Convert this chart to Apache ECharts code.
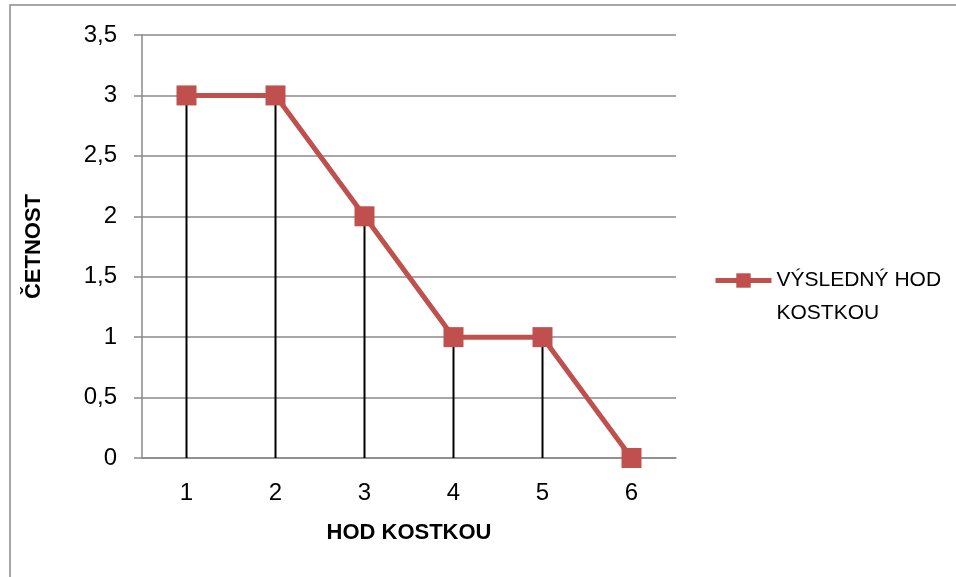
<!DOCTYPE html>
<html>
<head>
<meta charset="utf-8">
<script src="https://cdn.jsdelivr.net/npm/echarts@6/dist/echarts.min.js"></script>
<style>
  html, body { margin: 0; padding: 0; background: #fff; }
  #chart { width: 956px; height: 577px; }
</style>
</head>
<body>
<div id="chart"></div>
<script>
// hodnoty
var categories = ['1', '2', '3', '4', '5', '6'];
var counts = [3, 3, 2, 1, 1, 0];
var seriesName = 'VÝSLEDNÝ HOD KOSTKOU';
var yTicks = { min: 0, max: 3.5, interval: 0.5 };

var red = '#c0504d';
var grey = '#8a8a8a';
var font = 'Liberation Sans';

var myChart = echarts.init(document.getElementById('chart'));

var option = {
    animation: false,
    textStyle: { fontFamily: font },
    graphic: [{
        type: 'rect',
        shape: { x: 10, y: 5, width: 980, height: 620 },
        style: { fill: 'none', stroke: grey, lineWidth: 1.5 },
        silent: true
    }],
    grid: { left: 142, top: 35, right: 280, bottom: 119 },
    legend: {
        data: [seriesName],
        left: 708,
        top: 232,
        itemWidth: 56,
        itemHeight: 18,
        lineStyle: { width: 5 },
        formatter: function () { return '{gap| }\n{t|VÝSLEDNÝ HOD}\n{t|KOSTKOU}'; },
        textStyle: {
            fontFamily: font,
            fontSize: 21,
            color: '#000',
            rich: {
                gap: { fontSize: 21, lineHeight: 33 },
                t: { fontFamily: font, fontSize: 21, color: '#000', lineHeight: 33 }
            }
        }
    },
    xAxis: {
        type: 'category',
        data: categories,
        boundaryGap: true,
        name: 'HOD KOSTKOU',
        nameLocation: 'middle',
        nameGap: 64,
        nameTextStyle: { fontFamily: font, fontSize: 22, fontWeight: 'bold', color: '#000' },
        axisLine: { lineStyle: { color: grey, width: 1.5 } },
        axisTick: { show: false },
        axisLabel: { fontFamily: font, fontSize: 24, color: '#000', margin: 23 },
        splitLine: { show: false }
    },
    yAxis: {
        type: 'value',
        min: yTicks.min,
        max: yTicks.max,
        interval: yTicks.interval,
        name: 'ČETNOST',
        nameLocation: 'middle',
        nameGap: 97,
        nameRotate: 90,
        nameTextStyle: { fontFamily: font, fontSize: 22, fontWeight: 'bold', color: '#000' },
        axisLine: { show: true, lineStyle: { color: grey, width: 1.5 } },
        axisTick: { show: true, length: 8, lineStyle: { color: grey, width: 1.5 } },
        axisLabel: {
            fontFamily: font, fontSize: 24, color: '#000', margin: 25,
            formatter: function (v) { return String(v).replace('.', ','); }
        },
        splitLine: { lineStyle: { color: grey, width: 1.5 } }
    },
    series: [{
        // svislé spojnice k ose
        name: 'drop',
        type: 'bar',
        data: counts,
        barWidth: 2,
        itemStyle: { color: '#000' },
        z: 1,
        silent: true
    }, {
        name: seriesName,
        type: 'line',
        data: counts,
        symbol: 'rect',
        symbolSize: 20,
        itemStyle: { color: red },
        lineStyle: { color: red, width: 5 },
        z: 2
    }]
};

myChart.setOption(option);
</script>
</body>
</html>
